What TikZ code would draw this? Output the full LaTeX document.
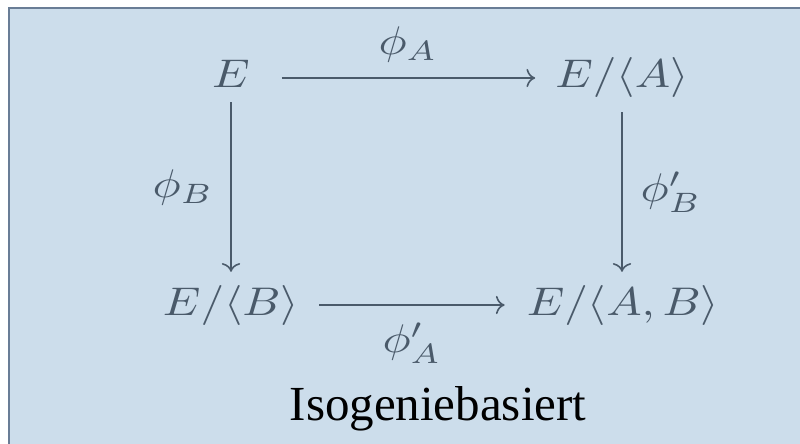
\documentclass[tikz,border=0pt]{standalone}
\usepackage{fontspec}
\usepackage{graphicx}
\usetikzlibrary{arrows.meta}
\newfontfamily\labelfont{Liberation Serif}
\definecolor{bgblue}{RGB}{204,221,235}
\definecolor{framecol}{RGB}{105,125,150}
\definecolor{inkcol}{RGB}{74,90,106}
\newcommand{\mth}[1]{\scalebox{4.72}[4]{$#1$}}
\begin{document}
\begin{tikzpicture}[x=1pt,y=-1pt,
  font=\fontsize{10}{12}\selectfont,
  obj/.style={text=inkcol, inner sep=0pt, anchor=base, text height=30pt, text depth=10pt},
  lab/.style={text=inkcol, inner sep=0pt, anchor=center},
  arr/.style={draw=inkcol, line width=1.6pt, -{Computer Modern Rightarrow[scale=1.7]}},
  caption/.style={text=black, inner sep=0pt, anchor=base, font=\labelfont\fontsize{49}{58}\selectfont}]
\useasboundingbox (0,0) rectangle (800,444);
\fill[white] (0,0) rectangle (800,444);
\fill[bgblue] (9,8) rectangle (800,444);
\draw[framecol, line width=1.5pt] (9,444) -- (9,8) -- (800,8);

\node[obj] (E)   at (231,88)  {\mth{E}};
\node[obj] (EA)  at (622,88)  {\mth{E/\langle A\rangle}};
\node[obj] (EB)  at (231,315) {\mth{E/\langle B\rangle}};
\node[obj] (EAB) at (623,315) {\mth{E/\langle A,B\rangle}};

\draw[arr, shorten <=32pt, shorten >=20pt] (E.east) -- (E.east -| EA.west);
\draw[arr, shorten <=4pt, shorten >=13pt] (E.south) -- (E.south |- EB.north);
\draw[arr, shorten <=14pt, shorten >=13pt] (EA.south) -- (EA.south |- EAB.north);
\draw[arr, shorten <=20pt, shorten >=22pt] (EB.east) -- (EB.east -| EAB.west);

\node[lab] (lA)  at (408,45)  {\mth{\phi_A}};
\node[lab] (lB)  at (183,187) {\mth{\phi_B}};
\node[lab] (lBp) at (671,192) {\mth{\phi'_B}};
\node[lab] (lAp) at (412,343) {\mth{\phi'_A}};

\node[caption] (cap) at (438,420) {Isogeniebasiert};
\end{tikzpicture}
\end{document}
